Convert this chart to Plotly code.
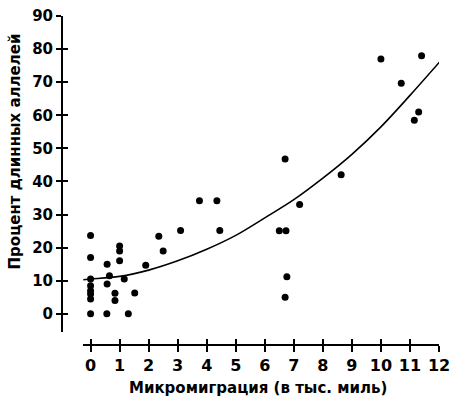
import plotly.graph_objects as go

# scatter points
migration = [0, 0, 0, 0, 0, 0, 0, 0,
             0.57, 0.65, 0.57, 0.56, 0.84, 0.84,
             1.0, 1.0, 1.0, 1.16, 1.3, 1.52, 1.9,
             2.35, 2.5, 3.1, 3.75, 4.35, 4.45,
             6.5, 6.73, 6.7, 6.76, 6.7, 7.2, 8.63,
             10.0, 10.7, 11.15, 11.3, 11.4]
long_alleles = [23.7, 17, 10.5, 8.5, 7, 6, 4.5, 0,
                15, 11.5, 9, 0, 6.2, 4,
                20.5, 19, 16, 10.5, 0, 6.3, 14.7,
                23.4, 19, 25.2, 34.2, 34.2, 25.2,
                25.1, 25.1, 46.8, 11.2, 5, 33, 42,
                77, 69.7, 58.5, 61, 78]

# trend curve
curve_x = [-0.25, 0, 1, 2, 3, 4, 5, 6, 7, 8, 9, 10, 11, 12.05]
curve_y = [10.3, 10.5, 11.3, 13.2, 16, 19.5, 23.7, 29, 34.5, 41, 48.2, 56.5, 66, 76.4]

x_ticks = list(range(0, 13))
y_ticks = list(range(0, 91, 10))

font_name = "DejaVu Sans"
x_tick_font = dict(family=font_name, size=16, color="black", weight="bold")
y_tick_font = dict(family=font_name, size=15, color="black", weight="bold")
title_font = dict(family=font_name, size=15, color="black", weight="bold")

fig = go.Figure()
fig.add_trace(go.Scatter(x=curve_x, y=curve_y, mode="lines", line=dict(color="black", width=1.6, shape="spline"),
                         hoverinfo="skip", showlegend=False))
fig.add_trace(go.Scatter(x=migration, y=long_alleles, mode="markers",
                         marker=dict(color="black", size=7), showlegend=False, cliponaxis=False))
# empty trace so the overlay axes (inner tick halves) get drawn
fig.add_trace(go.Scatter(x=[], y=[], xaxis="x2", yaxis="y2", showlegend=False))

x_dom = [0.055, 1]
y_dom = [0.0385, 1]
x_rng = [-0.27, 12]
y_rng = [-5.6, 90]

common = dict(showgrid=False, zeroline=False, tickwidth=2, tickcolor="black", fixedrange=True)

fig.update_layout(
    width=457, height=409,
    margin=dict(l=62, r=15, t=7, b=64),
    paper_bgcolor="white", plot_bgcolor="white",
    xaxis=dict(domain=x_dom, range=x_rng, anchor="free", position=0, showline=True, linewidth=2,
               linecolor="black", ticks="outside", ticklen=6, tickvals=x_ticks, tickfont=x_tick_font,
               ticklabeloverflow="allow", **common),
    xaxis2=dict(domain=x_dom, range=x_rng, anchor="free", position=0, overlaying="x", showline=False,
                ticks="inside", ticklen=6, tickvals=x_ticks, showticklabels=False, **common),
    yaxis=dict(domain=y_dom, range=y_rng, anchor="free", position=0, showline=True, linewidth=2,
               linecolor="black", ticks="outside", ticklen=5, tickvals=y_ticks, tickfont=y_tick_font,
               ticklabeloverflow="allow", **common),
    yaxis2=dict(domain=y_dom, range=y_rng, anchor="free", position=0, overlaying="y", showline=False,
                ticks="inside", ticklen=5, tickvals=y_ticks, showticklabels=False, **common),
    annotations=[
        dict(text="Процент длинных аллелей", xref="paper", yref="paper", x=-0.124, y=0.589,
             textangle=-90, showarrow=False, font=title_font, xanchor="center", yanchor="middle"),
        dict(text="Микромиграция (в тыс. миль)", xref="paper", yref="paper", x=0.521, y=-0.13,
             showarrow=False, font=title_font, xanchor="center", yanchor="middle"),
    ],
)

# the page body has an 8px default margin; drop it so the figure sits at the window corner
fig.write_html("out.html", config={"displayModeBar": False},
               post_script="document.body.style.margin='0';")
